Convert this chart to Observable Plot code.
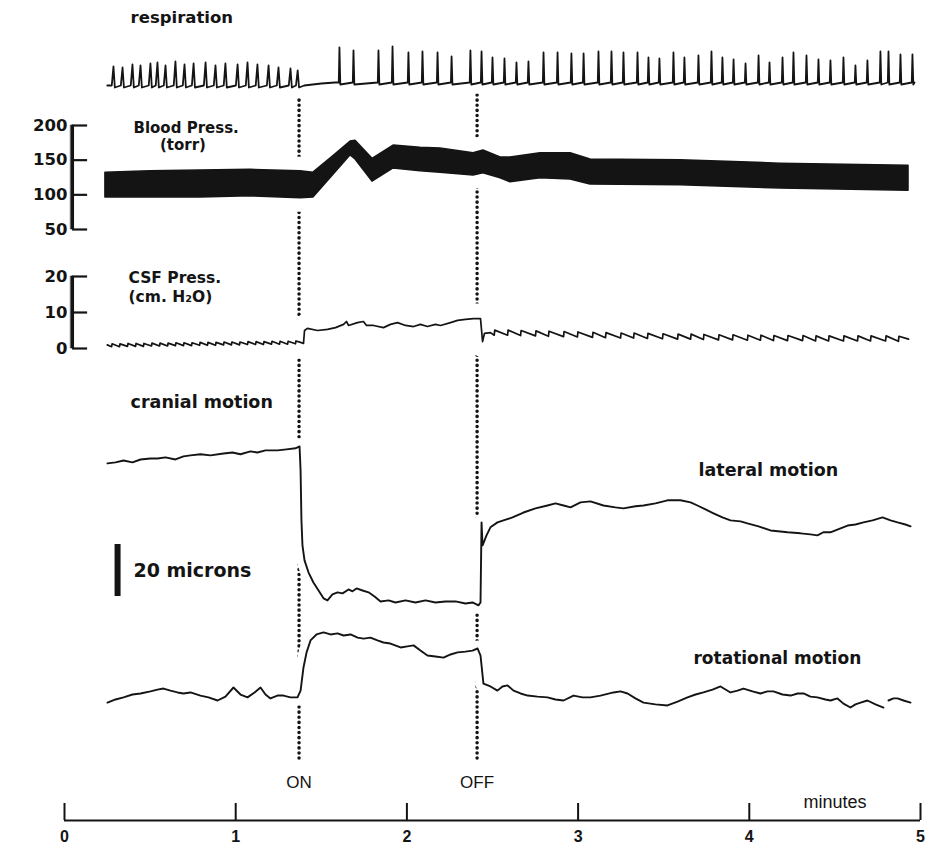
<!DOCTYPE html>
<html>
<head>
<meta charset="utf-8">
<script src="https://cdn.jsdelivr.net/npm/d3@7"></script>
<script src="https://cdn.jsdelivr.net/npm/@observablehq/plot@0.6"></script>
<style>
  body { margin: 0; background: #fff; }
  #wrap { position: relative; width: 948px; height: 848px; overflow: hidden; background: #fff; }
</style>
</head>
<body>
<div id="wrap"></div>
<script>
// ---------------- DATA (time in minutes) ----------------
const events = [{t: 1.37, label: "ON"}, {t: 2.41, label: "OFF"}];
const minuteTicks = [0, 1, 2, 3, 4, 5];

// respiration: spike times and spike heights (arbitrary units above baseline)
const respPreT = [0.286,0.339,0.397,0.444,0.502,0.543,0.590,0.648,0.701,0.754,0.824,0.882,0.940,1.011,1.069,1.127,1.192,1.250,1.320,1.362];
const respPreH = [19,18,21,20,22,23,20,24,21,22,23,20,22,21,23,21,20,18,17,15];
const respPostT = [1.606,1.688,1.834,1.916,2.009,2.091,2.179,2.261,2.371,2.436,2.500,2.570,2.640,2.710,2.798,2.880,2.961,3.032,3.119,3.195,3.265,3.347,3.411,3.475,3.557,3.621,3.703,3.779,3.843,3.908,3.978,4.054,4.118,4.194,4.258,4.334,4.404,4.474,4.550,4.620,4.690,4.766,4.813,4.883,4.953];
const respPostH = [35,32,32,36,30,31,30,26,32,31,25,24,20,21,30,30,29,29,31,31,30,30,25,24,30,25,27,31,25,23,19,27,20,25,30,27,23,22,25,17,22,31,31,28,28];

// blood pressure (torr): envelope of the pulse trace
const bpTicks = [50, 100, 150, 200];
const bpT   = [0.239,0.502,0.794,1.086,1.379,1.454,1.571,1.671,1.700,1.799,1.922,2.079,2.196,2.389,2.447,2.547,2.605,2.780,2.956,3.072,3.598,4.182,4.930];
const bpSys = [132,134,135,136,134,132,156,177,178,152,171,168,167,160,164,154,154,160,160,151,150,145,142];
const bpDia = [96,96,96,98,95,96,129,157,151,119,138,134,132,128,131,124,118,124,122,115,114,109,106];

// CSF pressure (cm H2O)
const csfTicks = [0, 10, 20];
const csfPreT = [0.275,0.321,0.368,0.415,0.461,0.508,0.555,0.602,0.648,0.695,0.742,0.789,0.835,0.882,0.929,0.975,1.022,1.069,1.116,1.162,1.209,1.256,1.303,1.349];
const csfPreV = [0.9,0.9,1.0,1.0,1.0,1.1,1.1,1.1,1.2,1.2,1.2,1.3,1.3,1.3,1.4,1.4,1.4,1.5,1.5,1.5,1.6,1.6,1.6,1.7];
const csfOnT = [1.379,1.396,1.402,1.419,1.478,1.536,1.583,1.630,1.647,1.659,1.711,1.746,1.764,1.805,1.863,1.904,1.945,1.992,2.039,2.079,2.120,2.167,2.196,2.255,2.296,2.342,2.389,2.430,2.442,2.453,2.488];
const csfOnV = [1.7,1.4,5.0,5.6,5.0,5.3,5.8,6.7,7.5,6.4,7.2,7.5,6.4,6.4,5.8,6.7,7.2,6.4,6.1,6.7,6.1,6.7,6.4,7.2,7.8,8.1,8.3,8.3,1.9,4.2,4.4];
const csfPostT = [2.510,2.588,2.664,2.751,2.827,2.915,2.996,3.084,3.160,3.248,3.324,3.405,3.493,3.581,3.657,3.732,3.820,3.902,3.989,4.065,4.141,4.223,4.311,4.387,4.463,4.550,4.632,4.708,4.796,4.871];
const csfPostV = [4.4,4.4,4.3,4.2,4.1,4.0,3.9,3.8,3.7,3.6,3.6,3.5,3.4,3.3,3.3,3.2,3.1,3.1,3.0,3.0,2.9,2.9,2.9,2.8,2.8,2.8,2.8,2.8,2.8,2.7];

// cranial motion (microns), lateral and rotational
const latT = [0.251,0.298,0.345,0.397,0.444,0.502,0.543,0.590,0.648,0.695,0.736,0.794,0.853,0.929,0.981,1.028,1.086,1.127,1.174,1.244,1.297,1.349,1.373,1.379,1.384,1.390,1.402,1.425,1.454,1.484,1.513,1.536,1.565,1.595,1.624,1.659,1.682,1.706,1.741,1.776,1.811,1.846,1.893,1.933,1.992,2.050,2.109,2.167,2.225,2.284,2.342,2.383,2.418,2.430,2.436,2.442,2.465,2.488,2.529,2.564,2.617,2.681,2.751,2.821,2.868,2.915,2.956,3.014,3.072,3.148,3.218,3.265,3.335,3.382,3.452,3.522,3.598,3.657,3.697,3.744,3.791,3.843,3.890,3.949,3.989,4.054,4.124,4.182,4.223,4.299,4.357,4.398,4.433,4.474,4.533,4.574,4.620,4.667,4.720,4.778,4.825,4.866,4.912,4.942];
const latV = [52.7,53.1,53.8,53.1,54.2,54.6,54.6,55.0,54.2,55.4,55.8,56.2,55.8,56.5,56.9,56.2,57.3,56.9,57.7,57.7,58.1,58.5,59.2,50,30.8,21.2,15.4,10.8,6.9,3.8,0.8,0,2.3,3.1,2.7,4.2,3.5,4.6,3.8,3.1,1.5,-0.4,0,-0.8,0,-0.8,0,-0.8,-0.4,-0.4,-1.2,-0.8,-1.9,-0.8,30,21.2,25,28.1,30,30.8,31.9,33.8,35.4,36.5,37.3,36.5,35.8,37.7,38.1,36.5,35.8,35.4,36.2,36.5,37.3,38.5,38.5,37.7,36.5,35.0,33.5,31.9,30.8,30.4,29.6,28.5,26.9,26.5,26.2,25.8,25.4,25.0,26.2,26.2,27.7,28.8,29.2,30.0,30.8,31.9,30.8,30.0,29.2,28.5];
const rotT = [0.251,0.298,0.345,0.397,0.444,0.502,0.543,0.578,0.619,0.660,0.695,0.736,0.794,0.841,0.894,0.940,0.987,1.028,1.069,1.110,1.145,1.174,1.203,1.244,1.279,1.320,1.361,1.379,1.396,1.414,1.437,1.472,1.513,1.554,1.595,1.630,1.671,1.712,1.747,1.787,1.828,1.863,1.904,1.963,2.003,2.039,2.079,2.120,2.167,2.214,2.255,2.296,2.342,2.383,2.413,2.430,2.447,2.488,2.529,2.558,2.588,2.623,2.664,2.705,2.763,2.821,2.868,2.915,2.973,3.026,3.072,3.131,3.207,3.248,3.289,3.335,3.382,3.452,3.522,3.581,3.639,3.686,3.732,3.785,3.832,3.890,3.931,3.966,4.019,4.065,4.106,4.141,4.194,4.241,4.282,4.317,4.357,4.398,4.445,4.474,4.515,4.550,4.591,4.620,4.650,4.690,4.737,4.784,4.800,4.813,4.842,4.866,4.901,4.942];
const rotV = [-0.8,0.4,1.2,2.3,2.7,3.5,4.2,4.6,3.8,3.1,2.7,3.1,1.9,1.2,0,1.5,5.0,2.3,1.2,3.1,5.0,2.3,0.8,1.9,1.9,1.2,1.2,3.8,12.7,18.5,23.1,25.4,26.2,25.4,25.8,25.0,25.4,24.2,23.8,24.2,23.1,22.3,21.9,20.4,20.8,21.2,19.2,17.3,16.9,16.5,17.7,18.5,18.8,19.2,20.0,17.3,6.5,5.4,3.8,5.4,5.8,3.8,2.7,1.9,1.5,1.2,0.4,0,1.9,1.2,1.2,1.9,3.1,3.5,2.7,0.8,-0.8,-1.5,-1.9,-0.4,1.2,2.3,3.1,4.2,5.4,3.1,3.8,4.6,3.5,2.7,3.5,3.5,2.3,1.9,2.7,2.7,1.5,1.2,0.4,0,0.8,-1.2,-2.7,-1.5,-0.8,0,-1.5,-2.7,null,0,0.8,0.8,0,-0.8];
const scaleBarMicrons = 20;

// ---------------- LAYOUT ----------------
const wrap = document.getElementById("wrap");
const INK = "#141414";
const LABEL_FONT = "'DejaVu Sans', 'Liberation Sans', Arial, sans-serif";
const AXIS_FONT = "'Liberation Sans', Arial, sans-serif";
const LAT_OFFSET = 38.5;     // vertical separation of the two motion traces (microns)
const BRACKET_T = 0.047;     // horizontal position of the left bracket axes (minutes)
const BRACKET_TICK = 0.088;  // length of the bracket ticks (minutes)
const BRACKET_HALF = 0.008;  // half thickness of the bracket bar (minutes)

function panel(top, opts) {
  const svg = Plot.plot({
    width: 948, marginLeft: 64, marginRight: 28,
    x: {domain: [0, 5], axis: null},
    style: `background: transparent; color: ${INK}; font-family: ${LABEL_FONT}; overflow: visible;`,
    ...opts
  });
  svg.style.position = "absolute";
  svg.style.left = "0px";
  svg.style.top = top + "px";
  wrap.appendChild(svg);
}

// a bracket-style left axis: filled vertical bar, inner ticks and labels
function bracketMarks(ticks) {
  const lo = d3.min(ticks), hi = d3.max(ticks);
  const barBand = [
    {t: BRACKET_T - BRACKET_HALF, lo, hi},
    {t: BRACKET_T + BRACKET_HALF, lo, hi}
  ];
  const tickRows = ticks.map(v => ({v, t1: BRACKET_T, t2: BRACKET_T + BRACKET_TICK}));
  return [
    Plot.areaY(barBand, {x: "t", y1: "lo", y2: "hi", fill: INK, stroke: INK, strokeWidth: 0.6}),
    Plot.ruleX([{t: BRACKET_T, lo, hi}], {x: "t", y1: "lo", y2: "hi", stroke: INK, strokeWidth: 3}),
    Plot.ruleY(tickRows, {y: "v", x1: "t1", x2: "t2", stroke: INK, strokeWidth: 2.2}),
    Plot.text(tickRows, {y: "v", x: "t1", text: d => String(d.v), textAnchor: "end", dx: -5, fontSize: 16.5, fontWeight: "bold", fill: INK})
  ];
}

// dotted ON / OFF markers (behind everything)
panel(0, {
  height: 848, marginTop: 95, marginBottom: 88,
  marks: [
    Plot.ruleX(events, {x: "t", stroke: INK, strokeWidth: 3.5, strokeDasharray: "0.1,5", strokeLinecap: "round"})
  ]
});

// respiration
const respPts = [{t: 0.25, v: 0}];
respPreT.forEach((t, i) => respPts.push({t: t - 0.01, v: 0}, {t, v: respPreH[i]}, {t: t + 0.008, v: -2}));
respPts.push({t: 1.40, v: 0}, {t: 1.50, v: 2}, {t: 1.58, v: 3});
respPostT.forEach((t, i) => respPts.push({t: t - 0.004, v: 3}, {t, v: 3 + respPostH[i]}, {t: t + 0.005, v: 1}));
respPts.push({t: 4.965, v: 3});

panel(0, {
  height: 100, marginTop: 44, marginBottom: 15,
  y: {domain: [0, 41], axis: null},
  marks: [
    Plot.line(respPts, {x: "t", y: "v", stroke: "white", strokeWidth: 20}),
    Plot.line(respPts, {x: "t", y: "v", stroke: INK, strokeWidth: 1.8, strokeLinejoin: "round"}),
    Plot.text([{t: 0.386, v: 68, s: "respiration"}], {x: "t", y: "v", text: "s", textAnchor: "start", fontSize: 16.5, fontWeight: "bold", fill: INK})
  ]
});

// blood pressure
const bp = bpT.map((t, i) => ({t, sys: bpSys[i], dia: bpDia[i]}));
panel(100, {
  height: 150, marginTop: 25, marginBottom: 21,
  y: {domain: [50, 200], axis: null},
  marks: [
    Plot.areaY(bp, {x: "t", y1: "dia", y2: "sys", fill: "white", stroke: "white", strokeWidth: 28, strokeLinejoin: "round"}),
    Plot.areaY(bp, {x: "t", y1: "dia", y2: "sys", fill: INK, stroke: INK, strokeWidth: 1.5}),
    ...bracketMarks(bpTicks),
    Plot.text([{t: 0.403, v: 196, s: "Blood Press."}], {x: "t", y: "v", text: "s", textAnchor: "start", fontSize: 15, fontWeight: "bold", fill: INK}),
    Plot.text([{t: 0.692, v: 172, s: "(torr)"}], {x: "t", y: "v", text: "s", textAnchor: "middle", fontSize: 15, fontWeight: "bold", fill: INK})
  ]
});

// CSF pressure
const csfPts = [{t: 0.25, v: 1.0}];
csfPreT.forEach((t, i) => csfPts.push({t, v: csfPreV[i] - 0.4}, {t: t + 0.003, v: csfPreV[i] + 0.4}));
csfOnT.forEach((t, i) => csfPts.push({t, v: csfOnV[i]}));
csfPostT.forEach((t, i) => csfPts.push({t, v: csfPostV[i] - 0.7}, {t: t + 0.003, v: csfPostV[i] + 0.7}));
csfPts.push({t: 4.93, v: 2.6});

panel(250, {
  height: 120, marginTop: 26, marginBottom: 22,
  y: {domain: [0, 20], axis: null},
  marks: [
    Plot.line(csfPts, {x: "t", y: "v", stroke: "white", strokeWidth: 30}),
    Plot.line(csfPts, {x: "t", y: "v", stroke: INK, strokeWidth: 1.7, strokeLinejoin: "round"}),
    ...bracketMarks(csfTicks),
    Plot.text([{t: 0.374, v: 19.7, s: "CSF Press."}], {x: "t", y: "v", text: "s", textAnchor: "start", fontSize: 15.5, fontWeight: "bold", fill: INK}),
    Plot.text([{t: 0.374, v: 14.2, s: "(cm. H\u2082O)"}], {x: "t", y: "v", text: "s", textAnchor: "start", fontSize: 15.5, fontWeight: "bold", fill: INK})
  ]
});

// cranial motion
const latPts = latT.map((t, i) => ({t, v: latV[i] + LAT_OFFSET}));
const rotPts = rotT.map((t, i) => ({t, v: rotV[i] == null ? null : rotV[i]}));
const scaleBar = [{t: 0.31, lo: 40, hi: 40 + scaleBarMicrons}];
panel(370, {
  height: 390, marginTop: 44, marginBottom: 8,
  y: {domain: [-20, 110], axis: null},
  marks: [
    Plot.line(latPts, {x: "t", y: "v", stroke: "white", strokeWidth: 16}),
    Plot.line(rotPts, {x: "t", y: "v", stroke: "white", strokeWidth: 16}),
    Plot.line(latPts, {x: "t", y: "v", stroke: INK, strokeWidth: 1.9, strokeLinejoin: "round"}),
    Plot.line(rotPts, {x: "t", y: "v", stroke: INK, strokeWidth: 1.9, strokeLinejoin: "round"}),
    Plot.ruleX(scaleBar, {x: "t", y1: "lo", y2: "hi", stroke: INK, strokeWidth: 6}),
    Plot.text([{t: 0.403, v: 50, s: scaleBarMicrons + " microns"}], {x: "t", y: "v", text: "s", textAnchor: "start", fontSize: 19, fontWeight: "bold", fill: INK}),
    Plot.text([{t: 0.386, v: 114.6, s: "cranial motion"}], {x: "t", y: "v", text: "s", textAnchor: "start", fontSize: 17.5, fontWeight: "bold", fill: INK}),
    Plot.text([{t: 3.703, v: 88.5, s: "lateral motion"}], {x: "t", y: "v", text: "s", textAnchor: "start", fontSize: 17.5, fontWeight: "bold", fill: INK}),
    Plot.text([{t: 3.674, v: 16.2, s: "rotational motion"}], {x: "t", y: "v", text: "s", textAnchor: "start", fontSize: 17, fontWeight: "bold", fill: INK})
  ]
});

// time axis
panel(760, {
  height: 88, marginTop: 43, marginBottom: 28,
  y: {domain: [0, 1], axis: null},
  style: `background: transparent; color: ${INK}; font-family: ${AXIS_FONT}; overflow: visible;`,
  marks: [
    Plot.ruleY([0], {stroke: INK, strokeWidth: 2}),
    Plot.tickX(minuteTicks, {x: d => d, stroke: INK, strokeWidth: 2}),
    Plot.axisX({ticks: minuteTicks, label: null, tickSize: 0, tickPadding: 10, fontSize: 16, fontWeight: "bold", tickFormat: d => String(d)}),
    Plot.text(events, {x: "t", text: "label", frameAnchor: "top", dy: -28, fontSize: 17, fill: INK}),
    Plot.text([{t: 4.5, s: "minutes"}], {x: "t", text: "s", frameAnchor: "top", dy: -8, fontSize: 18, fill: INK})
  ]
});
</script>
</body>
</html>
